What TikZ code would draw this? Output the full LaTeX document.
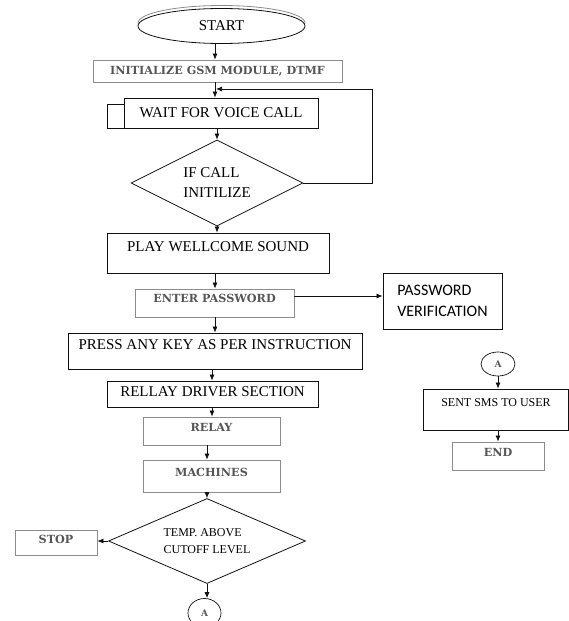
\documentclass[tikz,border=0pt]{standalone}
\usepackage{fontspec}
\setmainfont{Liberation Serif}
\newfontfamily\bookfont{DejaVu Serif}
\newfontfamily\calfont{Carlito}
\usetikzlibrary{arrows.meta, positioning, calc, shapes.geometric}
\definecolor{darkline}{HTML}{111111}
\definecolor{greyborder}{HTML}{8C8C8C}
\definecolor{greytext}{HTML}{555555}
\tikzset{
  card/.style={rectangle, draw=darkline, line width=0.8pt, inner sep=0pt,
               align=center, font=\fontsize{15}{18}\selectfont},
  softcard/.style={card, draw=greyborder, text=greytext,
                   font=\bookfont\bfseries\fontsize{11.2}{13}\selectfont},
  decision/.style={diamond, draw=darkline, line width=0.8pt, inner sep=0pt,
                   align=left, font=\fontsize{15}{20}\selectfont},
  terminal/.style={ellipse, draw=darkline, fill=white, line width=0.8pt,
                   inner sep=0pt, font=\fontsize{15}{18}\selectfont},
  connector/.style={ellipse, draw=darkline, line width=0.7pt, inner sep=0pt,
                    text=greytext, font=\bookfont\bfseries\fontsize{9}{10}\selectfont},
  lift/.style={text depth=#1},
  flow/.style={-{Latex[length=6pt, width=5pt]}, line width=0.7pt, draw=darkline},
}
\begin{document}
\begin{tikzpicture}[x=1pt, y=-1pt]
\useasboundingbox (0,0) rectangle (569,621);

% Main column
\node[terminal, draw=greyborder, minimum width=167pt, minimum height=35pt] (startrim) at (221.5,23) {};
\node[terminal, minimum width=167pt, minimum height=35pt] (start) at (221.5,26) {START};
\node[softcard, minimum width=249pt, minimum height=22pt] (init) at (217.5,71) {INITIALIZE GSM MODULE, DTMF};
\node[card, minimum width=17pt, minimum height=24pt] (waittab) at (115.5,116) {};
\node[card, fill=white, minimum width=194pt, minimum height=30pt] (wait) at (221,113) {WAIT FOR VOICE CALL};
\node[decision, aspect=2, minimum width=172pt, minimum height=86pt] (ifcall) at (217,183) {IF CALL\\INITILIZE};
\node[card, lift=12pt, minimum width=222pt, minimum height=40pt] (play) at (218,253) {PLAY WELLCOME SOUND};
\node[softcard, lift=10pt, minimum width=159pt, minimum height=28pt] (enter) at (214.5,303) {ENTER PASSWORD};
\node[card, lift=12pt, minimum width=294pt, minimum height=36pt] (press) at (215,351) {PRESS ANY KEY AS PER INSTRUCTION};
\node[card, lift=4pt, minimum width=211pt, minimum height=26pt] (rellay) at (212.5,394) {RELLAY DRIVER SECTION};
\node[softcard, lift=8pt, minimum width=137pt, minimum height=28pt] (relay) at (211.5,431) {RELAY};
\node[softcard, lift=8pt, minimum width=137pt, minimum height=32pt] (machines) at (211.5,476) {MACHINES};
\node[decision, aspect=2.3, font=\fontsize{12}{17}\selectfont, minimum width=197pt, minimum height=85pt] (temp) at (207,541) {TEMP. ABOVE\\CUTOFF LEVEL};
\node[softcard, lift=6pt, minimum width=82pt, minimum height=25pt] (stop) at (56,542.5) {STOP};
\node[connector, minimum width=33pt, minimum height=29pt] (lowA) at (204.5,613) {A};

% Side branch
\node[card, font=\calfont\fontsize{16}{21}\selectfont, align=left,
      minimum width=119pt, minimum height=56pt] (verif) at (442.5,301) {PASSWORD\\VERIFICATION};

% Right column
\node[connector, minimum width=34pt, minimum height=24pt] (highA) at (498,364) {A};
\node[card, lift=13pt, font=\fontsize{12}{14}\selectfont, minimum width=145pt, minimum height=41pt] (sent) at (496,409.5) {SENT SMS TO USER};
\node[softcard, lift=8pt, minimum width=92pt, minimum height=28pt] (finish) at (498,456) {END};

% Arrow columns
\coordinate (colA) at (215,0);
\coordinate (colB) at (212,0);
\coordinate (loopin) at (216,89);

% Flow
\draw[flow] (start.south -| colA) -- (init.north -| colA);
\draw[flow] (init.south -| colA) -- (wait.north -| colA);
\draw[flow] (wait.south -| ifcall.north) -- (ifcall.north);
\draw[flow] (ifcall.east) -- ++(69,0) |- (loopin);
\draw[flow] (ifcall.south) -- (ifcall.south |- play.north);
\draw[flow] (play.south -| colA) -- (enter.north -| colA);
\draw[flow] ([yshift=7pt]enter.east) -- ([yshift=7pt]enter.east -| verif.west);
\draw[flow] (enter.south -| colA) -- (press.north -| colA);
\draw[flow] (press.south -| colB) -- (rellay.north -| colB);
\draw[flow] (rellay.south -| colB) -- (relay.north -| colB);
\draw[flow] (relay.south -| temp.north) -- (machines.north -| temp.north);
\draw[flow] (machines.south -| temp.north) -- (temp.north);
\draw[flow] (temp.west) -- (temp.west -| stop.east);
\draw[flow] (temp.south) -- (temp.south |- lowA.north);
\draw[flow] (highA.south) -- (highA.south |- sent.north);
\draw[flow] (sent.south -| finish.north) -- (finish.north);

\end{tikzpicture}
\end{document}
